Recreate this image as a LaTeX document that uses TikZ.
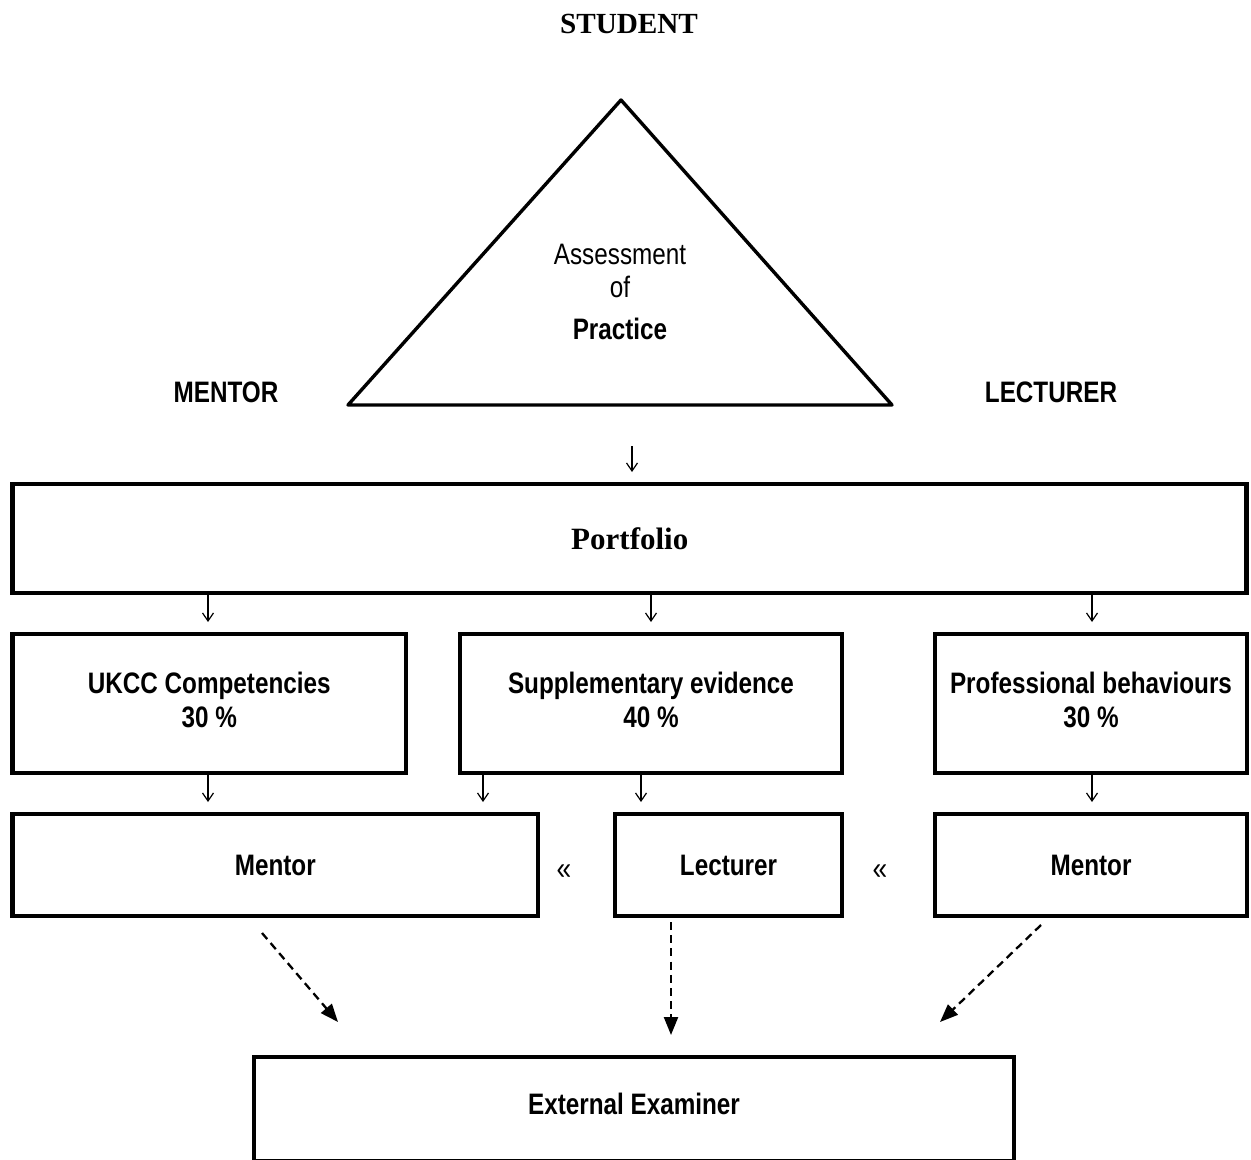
\documentclass[tikz,border=0pt]{standalone}
\usepackage{fontspec}
\setmainfont{Liberation Serif}
\newfontfamily\narrow[FakeStretch=0.82]{Liberation Sans}
\usetikzlibrary{arrows.meta}
\tikzset{
  box/.style={draw, line width=2.3pt, inner sep=0pt, align=center,
    font=\narrow\bfseries\fontsize{14.8}{17}\selectfont},
  lbl/.style={inner sep=0pt, font=\narrow\bfseries\fontsize{14.8}{17}\selectfont},
  sarrow/.style={line width=0.6pt, -{Straight Barb[length=4pt,width=5.5pt,line width=0.6pt]}},
  darrow/.style={line width=1.15pt, dash pattern=on 4pt off 2.6pt, -{Triangle[length=9pt,width=7pt]}}
}
\begin{document}
\begin{tikzpicture}[x=0.5pt,y=-0.5pt]
\useasboundingbox (0,0) rectangle (1251,1160);
% title
\node[inner sep=0pt, font=\bfseries\fontsize{14.6}{16}\selectfont] (student) at (629,24) {STUDENT};
% triangle
\coordinate (apex) at (621,100);
\coordinate (bl) at (348,405);
\coordinate (br) at (892,405);
\draw[line width=1.7pt, line join=round] (apex) -- (bl) -- (br) -- cycle;
\node[inner sep=0pt, align=center, font=\narrow\fontsize{14.8}{16.5}\selectfont] (aop) at (620,292)
  {Assessment\\of\\[4.5pt]\textbf{Practice}};
\node[lbl] (mentorlbl) at (226,392) {MENTOR};
\node[lbl] (lecturerlbl) at (1051,392) {LECTURER};
% top arrow
\coordinate (t1) at (632,446);
\coordinate (t2) at (632,472);
\draw[sarrow] (t1) -- (t2);
% portfolio
\node[box, minimum width=617pt, minimum height=54.5pt, font=\bfseries\fontsize{15.5}{18}\selectfont] (pf) at (629.75,538.5) {Portfolio};
% row 2
\node[box, minimum width=196.75pt, minimum height=69.5pt] (ukcc) at (209.25,703.5) {UKCC Competencies\\30 \%\rule[-4pt]{0pt}{1pt}};
\node[box, minimum width=191pt, minimum height=69.5pt] (supp) at (651,703.5) {Supplementary evidence\\40 \%\rule[-4pt]{0pt}{1pt}};
\node[box, minimum width=156pt, minimum height=69.5pt] (prof) at (1091,703.5) {Professional behaviours\\30 \%\rule[-4pt]{0pt}{1pt}};
% arrows portfolio -> row 2
\coordinate (p1) at (208,622);
\coordinate (p2) at (651,622);
\coordinate (p3) at (1092,622);
\draw[sarrow] (pf.south -| p1) -- (p1);
\draw[sarrow] (pf.south -| p2) -- (p2);
\draw[sarrow] (pf.south -| p3) -- (p3);
% row 3
\node[box, minimum width=262.75pt, minimum height=51pt] (m1) at (275.25,865) {Mentor};
\node[box, minimum width=113.5pt, minimum height=51pt] (lec) at (728.5,865) {Lecturer};
\node[box, minimum width=156pt, minimum height=51pt] (m2) at (1091,865) {Mentor};
% arrows row 2 -> row 3
\coordinate (q1) at (208,802);
\coordinate (q2) at (483,802);
\coordinate (q3) at (641,802);
\coordinate (q4) at (1092,802);
\draw[sarrow] (ukcc.south -| q1) -- (q1);
\draw[sarrow] (supp.south -| q2) -- (q2);
\draw[sarrow] (supp.south -| q3) -- (q3);
\draw[sarrow] (prof.south -| q4) -- (q4);
% guillemets
\node[inner sep=0pt, font=\narrow\fontsize{16}{18}\selectfont] (g1) at (564,872) {«};
\node[inner sep=0pt, font=\narrow\fontsize{16}{18}\selectfont] (g2) at (880,872) {«};
% external examiner
\node[box, minimum width=380pt, minimum height=52pt] (ee) at (634,1109) {External Examiner\rule[-5pt]{0pt}{1pt}};
% dashed arrows
\coordinate (d1s) at (262,933);
\coordinate (d1e) at (338,1022);
\coordinate (d2s) at (671,922);
\coordinate (d2e) at (671,1035);
\coordinate (d3s) at (1041,925);
\coordinate (d3e) at (940,1022);
\draw[darrow] (d1s) -- (d1e);
\draw[darrow] (d2s) -- (d2e);
\draw[darrow] (d3s) -- (d3e);
\end{tikzpicture}
\end{document}
